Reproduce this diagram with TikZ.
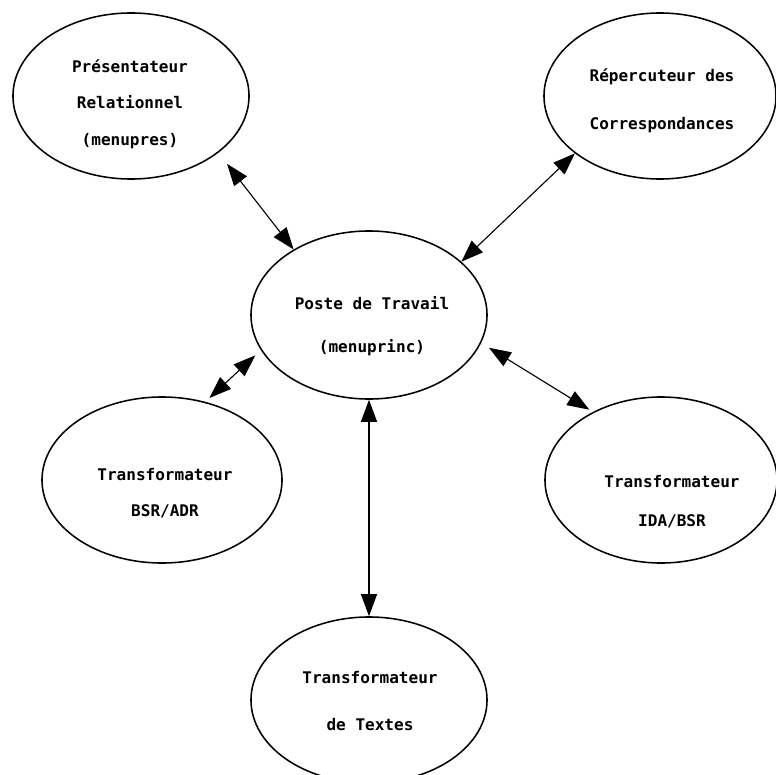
\documentclass[tikz,border=0pt]{standalone}
\usepackage{fontspec}
\setmonofont{DejaVu Sans Mono}
\usetikzlibrary{shapes.geometric, arrows.meta}

\tikzset{
  module/.style={draw, ellipse, line width=1.1pt, inner sep=0pt,
    minimum width=5.9cm, minimum height=4.15cm},
  modtext/.style={font=\ttfamily\bfseries\fontsize{11.4}{26}\selectfont, align=center, inner sep=0pt},
  link/.style={line width=0.8pt,
    {Triangle[length=5.5mm,width=4mm]}-{Triangle[length=5.5mm,width=4mm]}},
}

\begin{document}
\begin{tikzpicture}[x=0.025cm, y=-0.025cm]
  \useasboundingbox (0,0) rectangle (776,775);

  % modules
  \node[module] (pres) at (131,96) {};
  \node[module, minimum width=5.8cm] (rep) at (660,96) {};
  \node[module, minimum height=4.2cm] (poste) at (369,315) {};
  \node[module, minimum width=6cm] (bsr) at (162,480) {};
  \node[module, minimum width=5.8cm] (ida) at (661,480) {};
  \node[module] (textes) at (369,700) {};

  % labels
  \node[modtext] (pres-t) at (130,104) {Présentateur\\Relationnel\\(menupres)};
  \node[modtext] (rep-t) at (662,101) {Répercuteur des\\[8pt]Correspondances};
  \node[modtext] (poste-t) at (372,326) {Poste de Travail\\[4.6pt](menuprinc)};
  \node[modtext] (bsr-t) at (165,493) {Transformateur\\BSR/ADR};
  \node[modtext] (ida-t) at (672,502) {Transformateur\\[1.7pt]IDA/BSR};
  \node[modtext] (textes-t) at (370,701) {Transformateur\\[7.4pt]de Textes};

  % links
  \draw[link, shorten <=10pt] (pres.-33) -- (poste.139);
  \draw[link] (rep.214) -- (poste.30);
  \draw[link, shorten <=4pt, shorten >=5.5pt] (bsr.61) -- (poste.198);
  \draw[link, shorten <=6.5pt, shorten >=3pt] (poste.-14) -- (ida.135);
  \draw[link] (poste.south) -- (textes.north);
\end{tikzpicture}
\end{document}
